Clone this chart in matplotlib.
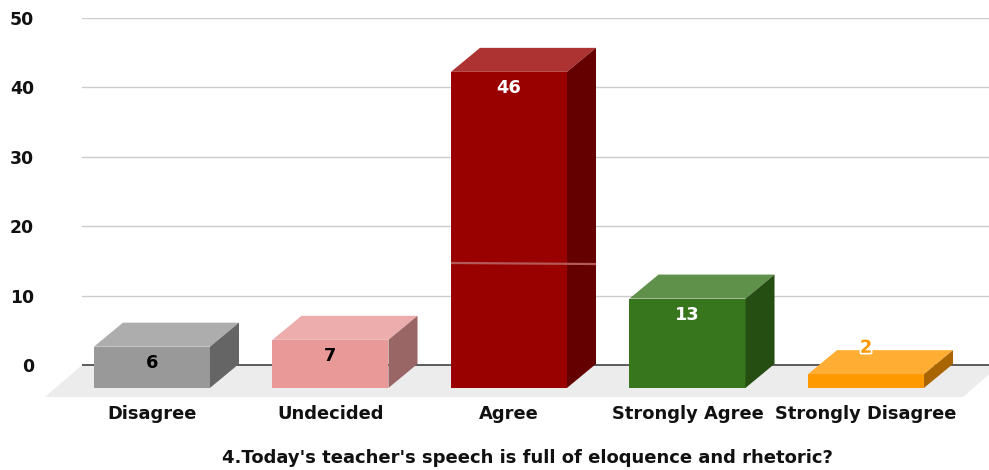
import matplotlib
matplotlib.use("Agg")
import matplotlib.pyplot as plt
import matplotlib.patheffects as pe
from matplotlib.colors import to_rgb
from matplotlib.patches import Polygon

# data
categorias = ["Disagree", "Undecided", "Agree", "Strongly Agree", "Strongly Disagree"]
valores = [6, 7, 46, 13, 2]
cores = ["#999999", "#ea9999", "#990000", "#38761d", "#ff9900"]
cores_rotulo = ["black", "black", "white", "white", "#ff9900"]
yticks = [0, 10, 20, 30, 40, 50]
titulo = "4.Today's teacher's speech is full of eloquence and rhetoric?"

# fake 3d geometry, in data units
largura = 0.65
base = -3.3       # front face starts below the back wall zero
escala = 0.99     # front plane is drawn slightly smaller
prof_x = 0.1625
prof_y = 3.46

plt.rcParams["font.family"] = "DejaVu Sans"
plt.rcParams["font.weight"] = "bold"

fig = plt.figure(figsize=(9.89, 4.70), dpi=100)
ax = fig.add_axes([82 / 989, (470 - 397) / 470, 907 / 989, (397 - 18) / 470])
ax.set_xlim(-0.392, 4.689)
ax.set_ylim(-4.61, 50)

# --- floor and grid
ax.add_patch(Polygon([(-0.392, 0), (-0.599, -4.61), (4.543, -4.61), (4.75, 0)],
                     facecolor="#ececec", edgecolor="none", clip_on=False, zorder=1))
ax.set_yticks(yticks)
ax.set_axisbelow(True)
ax.grid(axis="y", color="#cccccc", linewidth=1.0)
ax.axhline(0, color="#333333", linewidth=1.1, zorder=1.5)

# --- bars
for i, (v, c) in enumerate(zip(valores, cores)):
    rgb = to_rgb(c)
    topo_cor = [x + (1 - x) * 0.2 for x in rgb]
    lado_cor = [x * 0.66 for x in rgb]
    h = v * escala
    topo = base + h
    esq = i - largura / 2
    dir = i + largura / 2
    ax.bar(i, h, width=largura, bottom=base, color=c, linewidth=0, zorder=3)
    ax.add_patch(Polygon([(esq, topo), (esq + prof_x, topo + prof_y),
                          (dir + prof_x, topo + prof_y), (dir, topo)],
                         facecolor=topo_cor, edgecolor="none", zorder=3))
    ax.add_patch(Polygon([(dir, base), (dir + prof_x, base + prof_y),
                          (dir + prof_x, topo + prof_y), (dir, topo)],
                         facecolor=lado_cor, edgecolor="none", zorder=3))

    # small bars get the label above the top face
    if v < 5:
        t = ax.annotate(str(v), (i, topo), xytext=(0, 19), textcoords="offset points",
                        ha="center", va="center", fontsize=12.8, color=cores_rotulo[i], zorder=5)
        t.set_path_effects([pe.withStroke(linewidth=2.5, foreground="white")])
    else:
        ax.annotate(str(v), (i, topo), xytext=(0, -11.5), textcoords="offset points",
                    ha="center", va="center", fontsize=12.8, color=cores_rotulo[i], zorder=5)

# pale line crossing the tall bar in the original
ax.plot([2 - largura / 2, 2 + largura / 2 + prof_x], [14.7, 14.55], color="#b55a5a",
        linewidth=1.6, zorder=4, solid_capstyle="butt")

# --- axes text
for s in ax.spines.values():
    s.set_visible(False)
ax.set_xticks(range(len(categorias)))
ax.set_xticklabels(categorias, fontsize=12.9, color="#111111")
ax.tick_params(axis="x", length=0, pad=6)
ax.tick_params(axis="y", length=0, pad=34.5, labelsize=12.4, labelcolor="#111111")
ax.set_xlabel(titulo, fontsize=13, color="#111111", fontweight="bold", va="center")
ax.xaxis.set_label_coords((527 - 82) / 907, (397 - 458) / 379)

fig.savefig("out.png", dpi=100)
